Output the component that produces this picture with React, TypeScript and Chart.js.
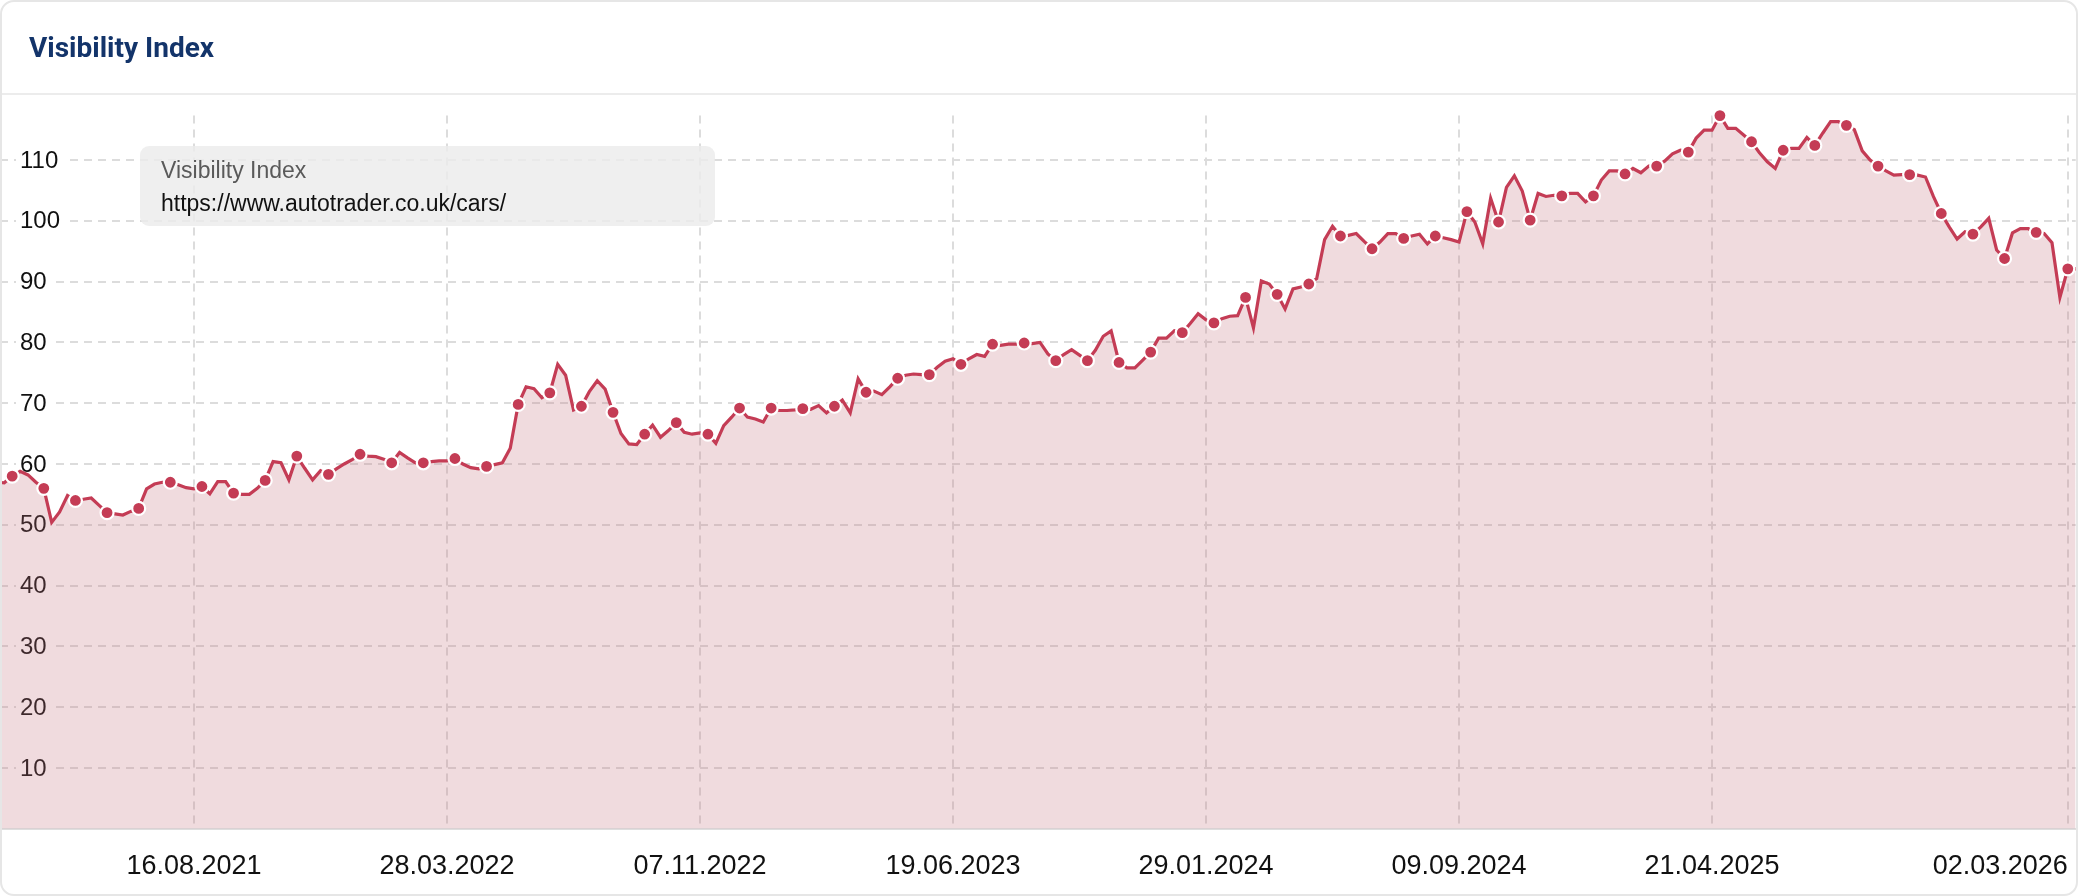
import React, { useEffect, useRef } from 'react';
import { Chart, registerables } from 'chart.js';

Chart.register(...registerables);

// ---- data ----
const chartTitle = 'Visibility Index';
const seriesName = 'Visibility Index';
const seriesUrl = 'https://www.autotrader.co.uk/cars/';

// weekly values (Mondays), first week = 22.02.2021
const firstWeek = '2021-02-22';
const visibility: number[] = [
  57.0, 56.9, 58.0, 58.8, 58.2, 57.0, 56.0, 50.4, 52.1, 54.8,
  54.0, 54.2, 54.4, 53.2, 52.0, 51.8, 51.6, 52.2, 52.7, 55.9,
  56.7, 57.0, 57.0, 56.6, 56.1, 55.9, 56.3, 55.1, 57.1, 57.1,
  55.2, 55.0, 55.0, 56.0, 57.3, 60.4, 60.2, 57.4, 61.3, 59.3,
  57.4, 58.9, 58.3, 59.2, 60.0, 60.7, 61.6, 61.3, 61.2, 60.8,
  60.2, 61.9, 61.0, 60.2, 60.2, 60.4, 60.5, 60.5, 60.9, 60.0,
  59.4, 59.2, 59.6, 59.9, 60.2, 62.6, 69.8, 72.7, 72.4, 70.9,
  71.7, 76.4, 74.6, 68.9, 69.5, 71.9, 73.7, 72.3, 68.5, 65.0,
  63.3, 63.2, 64.9, 66.4, 64.4, 65.5, 66.8, 65.2, 64.9, 65.1,
  64.9, 63.4, 66.3, 67.7, 69.2, 67.7, 67.4, 66.9, 69.2, 68.8,
  68.8, 68.9, 69.1, 69.0, 69.6, 68.4, 69.5, 70.5, 68.4, 74.0,
  71.8, 72.0, 71.4, 72.7, 74.1, 74.6, 74.8, 74.7, 74.7, 75.9,
  76.9, 77.3, 76.4, 77.3, 78.0, 77.7, 79.7, 79.5, 79.7, 79.7,
  79.9, 79.8, 80.0, 78.1, 77.0, 78.0, 78.8, 77.9, 77.0, 78.7,
  81.0, 81.9, 76.7, 75.8, 75.8, 77.1, 78.4, 80.7, 80.7, 81.9,
  81.6, 83.1, 84.7, 83.7, 83.2, 83.9, 84.3, 84.4, 87.4, 82.4,
  90.1, 89.6, 87.9, 85.5, 88.8, 89.1, 89.6, 90.5, 96.9, 99.1,
  97.5, 97.6, 97.9, 96.6, 95.4, 96.5, 97.9, 97.9, 97.1, 97.5,
  97.8, 96.2, 97.5, 97.2, 96.9, 96.5, 101.5, 99.8, 96.2, 103.7,
  99.8, 105.5, 107.4, 104.9, 100.1, 104.5, 104.0, 104.2, 104.1, 104.5,
  104.5, 103.1, 104.1, 106.7, 108.2, 108.2, 107.7, 108.6, 107.9, 109.0,
  109.0, 109.8, 111.0, 111.6, 111.3, 113.6, 114.9, 114.9, 117.3, 115.2,
  115.2, 114.1, 113.0, 111.2, 109.7, 108.6, 111.6, 111.9, 111.9, 113.7,
  112.4, 114.4, 116.3, 116.3, 115.7, 115.0, 111.5, 110.0, 109.0, 108.2,
  107.5, 107.6, 107.6, 107.5, 107.2, 104.0, 101.2, 99.0, 97.0, 98.2,
  97.8, 99.0, 100.4, 95.2, 93.8, 98.0, 98.7, 98.7, 98.1, 97.9,
  96.4, 87.4, 92.1, 92.1,
];

const xTickDates = [
  '2021-08-16', '2022-03-28', '2022-11-07', '2023-06-19',
  '2024-01-29', '2024-09-09', '2025-04-21', '2026-03-02',
];
const yTickValues = [10, 20, 30, 40, 50, 60, 70, 80, 90, 100, 110];

// ---- helpers ----
const DAY = 86400000;
const toMs = (d: string) => Date.parse(d + 'T00:00:00Z');
const startMs = toMs(firstWeek);
const points = visibility.map((v, i) => ({ x: startMs + i * 7 * DAY, y: v }));
const fmtDate = (ms: number) => {
  const d = new Date(ms);
  const dd = String(d.getUTCDate()).padStart(2, '0');
  const mm = String(d.getUTCMonth() + 1).padStart(2, '0');
  return `${dd}.${mm}.${d.getUTCFullYear()}`;
};

const LINE = '#c43c55';
const FILL = 'rgba(195,111,123,0.25)';
const FONT = '"Liberation Sans", Arial, Helvetica, sans-serif';

const W = 2078;
const H = 896;

export default function App() {
  const ref = useRef<HTMLCanvasElement | null>(null);

  useEffect(() => {
    document.body.style.margin = '0';
    const canvas = ref.current;
    if (!canvas) return;

    const yLabels = {
      id: 'yLabels',
      beforeDatasetsDraw(chart: any) {
        const { ctx, chartArea, scales } = chart;
        const y = scales.y;
        ctx.save();
        ctx.font = `24px ${FONT}`;
        ctx.textBaseline = 'middle';
        ctx.textAlign = 'left';
        yTickValues.forEach((v) => {
          const py = y.getPixelForValue(v);
          const t = String(v);
          const w = ctx.measureText(t).width;
          const x0 = chartArea.left + 20;
          ctx.fillStyle = '#ffffff';
          ctx.fillRect(x0 - 4, py - 12, w + 12, 24);
          ctx.fillStyle = '#111111';
          ctx.fillText(t, x0, py + 1);
        });
        ctx.restore();
      },
    };

    const overlay = {
      id: 'overlay',
      afterDraw(chart: any) {
        const { ctx, chartArea, scales } = chart;
        const x = scales.x;
        ctx.save();
        // x labels
        ctx.font = `27px ${FONT}`;
        ctx.fillStyle = '#111111';
        ctx.textBaseline = 'alphabetic';
        xTickDates.forEach((d, k) => {
          const ms = toMs(d);
          const px = x.getPixelForValue(ms);
          ctx.textAlign = k === xTickDates.length - 1 ? 'right' : 'center';
          ctx.fillText(fmtDate(ms), px, chartArea.bottom + 45);
        });
        // legend box
        ctx.fillStyle = 'rgba(236,236,236,0.82)';
        ctx.beginPath();
        (ctx as any).roundRect(140, 146, 575, 80, 9);
        ctx.fill();
        ctx.textAlign = 'left';
        ctx.font = `23px ${FONT}`;
        ctx.fillStyle = '#5a5a5a';
        ctx.fillText(seriesName, 161, 178);
        ctx.fillStyle = '#111111';
        ctx.fillText(seriesUrl, 161, 211);
        ctx.restore();
      },
    };

    const chart = new Chart(canvas, {
      type: 'line',
      data: {
        datasets: [
          {
            label: seriesName,
            data: points,
            borderColor: LINE,
            backgroundColor: FILL,
            fill: 'origin',
            borderWidth: 3.2,
            tension: 0,
            clip: false as any,
            pointRadius: (c: any) => (c.dataIndex % 4 === 2 ? 6.5 : 0),
            pointHoverRadius: (c: any) => (c.dataIndex % 4 === 2 ? 6.5 : 0),
            pointBackgroundColor: LINE,
            pointBorderColor: '#ffffff',
            pointBorderWidth: 2.2,
          },
        ],
      },
      options: {
        animation: false,
        responsive: false,
        events: [],
        layout: { padding: { top: 115.6, bottom: H - 828.8, left: 0, right: W - 2075.7 } },
        plugins: { legend: { display: false }, tooltip: { enabled: false } },
        scales: {
          x: {
            type: 'linear',
            min: startMs + 0.46 * 7 * DAY,
            max: startMs + (visibility.length - 1) * 7 * DAY,
            afterBuildTicks: (s: any) => {
              s.ticks = xTickDates.map((d) => ({ value: toMs(d) }));
            },
            ticks: { display: false },
            grid: { color: '#dcdcdc', lineWidth: 2, drawTicks: false },
            border: { display: true, color: '#dedede', width: 2, dash: [8, 6] },
          },
          y: {
            type: 'linear',
            min: 0,
            max: Math.max(...visibility),
            afterBuildTicks: (s: any) => {
              s.ticks = yTickValues.map((v) => ({ value: v }));
            },
            ticks: { display: false },
            grid: { color: '#dcdcdc', lineWidth: 2, drawTicks: false },
            border: { display: false, dash: [8, 6] },
          },
        },
      },
      plugins: [yLabels, overlay],
    });

    return () => chart.destroy();
  }, []);

  return (
    <div style={{ position: 'relative', width: W, height: H, background: '#fff', overflow: 'hidden', fontFamily: FONT }}>
      <canvas ref={ref} width={W} height={H} style={{ position: 'absolute', left: 0, top: 0, display: 'block' }} />
      <div style={{ position: 'absolute', left: 0, top: 93, width: W, height: 2, background: '#ececec' }} />
      <div
        style={{
          position: 'absolute',
          left: 29,
          top: 34,
          fontFamily: 'Roboto, "Liberation Sans", Arial, sans-serif',
          fontWeight: 700,
          fontSize: 28,
          lineHeight: 1,
          color: '#13346a',
          whiteSpace: 'nowrap',
        }}
      >
        {chartTitle}
      </div>
      <div
        style={{
          position: 'absolute',
          left: 0,
          top: 0,
          width: W,
          height: H,
          boxSizing: 'border-box',
          border: '2px solid #e6e6e6',
          borderRadius: 14,
          pointerEvents: 'none',
        }}
      />
    </div>
  );
}
